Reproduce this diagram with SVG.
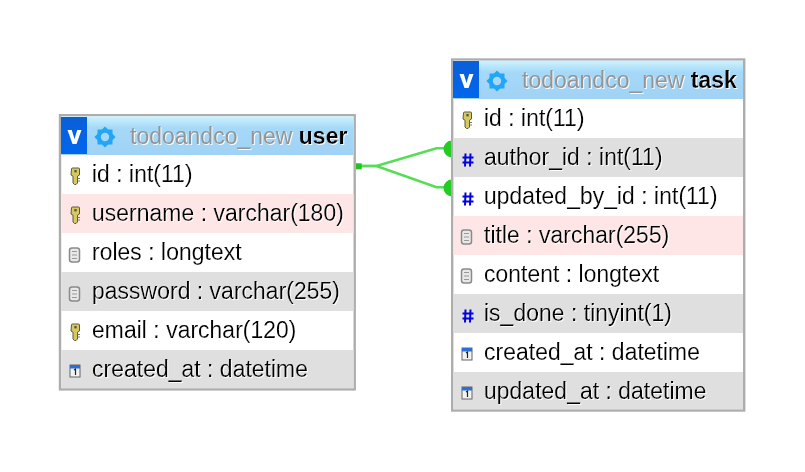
<svg xmlns="http://www.w3.org/2000/svg" xmlns:xlink="http://www.w3.org/1999/xlink" width="805" height="472" viewBox="0 0 805 472">
<style>
text{font-family:"Liberation Sans",Arial,sans-serif;font-size:23px;fill:#000}
.f{filter:url(#halo)}
.t{fill:#949494;filter:url(#halo)}
.b{font-weight:bold;fill:#000}
.frame{fill:#fff;stroke:#adadad;stroke-width:2.400}
.grey{fill:#dfdfdf}.pink{fill:#ffe6e6}
.conn{fill:none;stroke:#55dd55;stroke-width:2.600}
</style>
<defs>
<filter id="halo" x="-5%" y="-20%" width="110%" height="140%"><feDropShadow dx="1" dy="1" stdDeviation="0.6" flood-color="#fff" flood-opacity="0.9"/></filter>
<linearGradient id="hd" x1="0" y1="0" x2="0" y2="1"><stop offset="0" stop-color="#cdf4ff"/><stop offset="0.3" stop-color="#a6d8f8"/><stop offset="1" stop-color="#a0d2f5"/></linearGradient>
<linearGradient id="vb" x1="0" y1="0" x2="0" y2="1"><stop offset="0" stop-color="#0a5fd8"/><stop offset="1" stop-color="#0066ee"/></linearGradient>
<g id="hdr">
<rect x="0" y="0" width="26" height="37" fill="url(#vb)"/>
<path d="M6.500 13h4.300l2.700 9 2.700-9h4.300l-5 14h-4z" fill="#fff"/>
<g transform="translate(44 20)">
<rect x="-7.500" y="-7.500" width="15" height="15" fill="#22a7f7"/>
<rect x="-7.500" y="-7.500" width="15" height="15" fill="#22a7f7" transform="rotate(45)"/>
<circle r="4.200" fill="#a8d8f8"/>
</g>
</g>
<g id="key"><path d="M-4-7a1 1 0 0 1 1-1h6a1 1 0 0 1 1 1v6l-2 1.200v6.800l-1.500 1.500h-1.500l-1.500-1.500v-6.800l-2-1.200z" fill="#d8c860" stroke="#5a5a40" stroke-width="1"/><rect x="-1.200" y="-6" width="2.400" height="2.400" fill="#5a5a40"/><path d="M2 2.500h2.500M2 5h2.500" stroke="#777" stroke-width="1"/></g>
<g id="doc"><rect x="-4.500" y="-7" width="10" height="14" rx="2.500" fill="#e8e8e8" stroke="#8a8a8a" stroke-width="1.500"/><path d="M-2 -3.500h5M-2 0h5M-2 3.500h5" stroke="#999" stroke-width="1"/></g>
<g id="hash"><path d="M-2.500-6.500L-3 6.500M2.500-6.500L2 6.500M-5.500-2.500H5.500M-5.500 2.500H5.500" stroke="#0000e0" stroke-width="2" fill="none"/></g>
<g id="cal"><rect x="-5" y="-6" width="10" height="12" fill="#f2f2f2" stroke="#666" stroke-width="1"/><rect x="-5" y="-6" width="10" height="3.500" fill="#2a6fd8"/><path d="M-1-1l1.500-1v6" stroke="#222" stroke-width="1.200" fill="none"/></g>
</defs>

<g id="connectors">
<path class="conn" d="M356 166H376.500L436.500 148.300H447"/>
<path class="conn" d="M356 166H376.500L436.500 187.300H447"/>
<rect x="355.700" y="163.300" width="6" height="6" fill="#1fc41f"/>
<path d="M452 140.500a8.500 8.500 0 0 0 0 17z" fill="#22cc22"/>
<path d="M452 179.500a8.500 8.500 0 0 0 0 17z" fill="#22cc22"/>
</g>

<g id="user">
<rect class="frame" x="60" y="115.200" width="294.700" height="274.200"/>
<rect x="61.200" y="116.400" width="292.300" height="38.600" fill="url(#hd)"/>
<rect class="pink" x="61.200" y="194" width="292.300" height="39"/>
<rect class="grey" x="61.200" y="272" width="292.300" height="39"/>
<rect class="grey" x="61.200" y="350" width="292.300" height="38.200"/>
<use xlink:href="#hdr" href="#hdr" x="61" y="117"/>
<text class="t" x="130" y="144">todoandco_new <tspan class="b">user</tspan></text>
<use xlink:href="#key" href="#key" x="75.500" y="176"/><text class="f" x="92" y="182">id : int(11)</text>
<use xlink:href="#key" href="#key" x="75.500" y="215"/><text class="f" x="92" y="221">username : varchar(180)</text>
<use xlink:href="#doc" href="#doc" x="74" y="255"/><text class="f" x="92" y="260">roles : longtext</text>
<use xlink:href="#doc" href="#doc" x="74" y="294"/><text class="f" x="92" y="299">password : varchar(255)</text>
<use xlink:href="#key" href="#key" x="75.500" y="332"/><text class="f" x="92" y="338">email : varchar(120)</text>
<use xlink:href="#cal" href="#cal" x="75" y="371"/><text class="f" x="92" y="377">created_at : datetime</text>
</g>

<g id="task">
<rect class="frame" x="452.200" y="59.500" width="292" height="351"/>
<rect x="453.400" y="60.700" width="289.600" height="38.300" fill="url(#hd)"/>
<rect class="grey" x="453.400" y="138" width="289.600" height="39"/>
<rect class="pink" x="453.400" y="216" width="289.600" height="39"/>
<rect class="grey" x="453.400" y="294" width="289.600" height="39"/>
<rect class="grey" x="453.400" y="372" width="289.600" height="37.300"/>
<use xlink:href="#hdr" href="#hdr" x="453" y="61"/>
<text class="t" x="522" y="88">todoandco_new <tspan class="b">task</tspan></text>
<use xlink:href="#key" href="#key" x="467.500" y="120"/><text class="f" x="484" y="126">id : int(11)</text>
<use xlink:href="#hash" href="#hash" x="468" y="160"/><text class="f" x="484" y="165">author_id : int(11)</text>
<use xlink:href="#hash" href="#hash" x="468" y="199"/><text class="f" x="484" y="204">updated_by_id : int(11)</text>
<use xlink:href="#doc" href="#doc" x="466" y="237"/><text class="f" x="484" y="243">title : varchar(255)</text>
<use xlink:href="#doc" href="#doc" x="466" y="276"/><text class="f" x="484" y="282">content : longtext</text>
<use xlink:href="#hash" href="#hash" x="468" y="316"/><text class="f" x="484" y="321">is_done : tinyint(1)</text>
<use xlink:href="#cal" href="#cal" x="467" y="354"/><text class="f" x="484" y="360">created_at : datetime</text>
<use xlink:href="#cal" href="#cal" x="467" y="393"/><text class="f" x="484" y="399">updated_at : datetime</text>
</g>
</svg>
